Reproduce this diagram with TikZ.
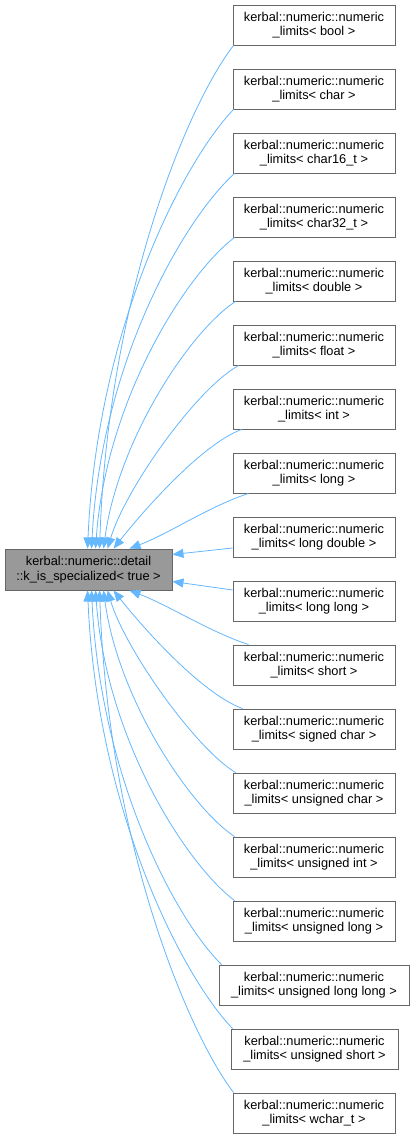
\documentclass[tikz,border=0pt]{standalone}
\usepackage{fontspec}
\setmainfont{Liberation Sans}
\usetikzlibrary{arrows.meta}
\definecolor{edgecol}{HTML}{63B8FF}
\definecolor{boxline}{HTML}{666666}
\definecolor{basefill}{HTML}{999999}
\tikzset{
  cls/.style={draw=boxline, line width=0.9pt, fill=white, minimum width=162pt, minimum height=40pt,
    inner sep=0pt, align=center, font=\fontsize{12.8}{14.6}\selectfont},
  basecls/.style={cls, fill=basefill, minimum width=167pt, minimum height=41pt},
  inh/.style={draw=edgecol, line width=0.8pt, -{Triangle[length=11pt,width=9pt]}}
}
\begin{document}
\begin{tikzpicture}[x=1pt,y=1pt]
\useasboundingbox[fill=white] (0,0) rectangle (413,-1139);
\node[basecls] (L) at (88.5,-569.5) {kerbal::numeric::detail\\::k\_is\_specialized< true >};
\node[cls] (n0) at (314,-25) {kerbal::numeric::numeric\\\_limits< bool >};
\node[cls] (n1) at (314,-89) {kerbal::numeric::numeric\\\_limits< char >};
\node[cls] (n2) at (314,-153) {kerbal::numeric::numeric\\\_limits< char16\_t >};
\node[cls] (n3) at (314,-217) {kerbal::numeric::numeric\\\_limits< char32\_t >};
\node[cls] (n4) at (314,-281) {kerbal::numeric::numeric\\\_limits< double >};
\node[cls] (n5) at (314,-345) {kerbal::numeric::numeric\\\_limits< float >};
\node[cls] (n6) at (314,-409) {kerbal::numeric::numeric\\\_limits< int >};
\node[cls] (n7) at (314,-473) {kerbal::numeric::numeric\\\_limits< long >};
\node[cls] (n8) at (314,-537) {kerbal::numeric::numeric\\\_limits< long double >};
\node[cls] (n9) at (314,-601) {kerbal::numeric::numeric\\\_limits< long long >};
\node[cls] (n10) at (314,-665) {kerbal::numeric::numeric\\\_limits< short >};
\node[cls] (n11) at (314,-729) {kerbal::numeric::numeric\\\_limits< signed char >};
\node[cls] (n12) at (314,-793) {kerbal::numeric::numeric\\\_limits< unsigned char >};
\node[cls] (n13) at (314,-857) {kerbal::numeric::numeric\\\_limits< unsigned int >};
\node[cls] (n14) at (314,-921) {kerbal::numeric::numeric\\\_limits< unsigned long >};
\node[cls, minimum width=190pt] (n15) at (314,-985) {kerbal::numeric::numeric\\\_limits< unsigned long long >};
\node[cls, minimum width=167pt] (n16) at (314.5,-1049) {kerbal::numeric::numeric\\\_limits< unsigned short >};
\node[cls] (n17) at (314,-1113) {kerbal::numeric::numeric\\\_limits< wchar\_t >};
% upper edges
\draw[inh] ([xshift=1pt]n0.south west) .. controls (187,-105.5) and (108,-297) .. ([xshift=95pt]L.north west);
\draw[inh] ([xshift=1pt]n1.south west) .. controls (183,-162) and (97,-329) .. ([xshift=83pt]L.north west);
\draw[inh] ([xshift=2pt]n2.south west) .. controls (185,-218) and (101,-361) .. ([xshift=87pt]L.north west);
\draw[inh] ([xshift=2pt]n3.south west) .. controls (186,-274) and (106,-400) .. ([xshift=91pt]L.north west);
\draw[inh] ([xshift=3pt]n4.south west) .. controls (190,-331) and (118,-440) .. ([xshift=99pt]L.north west);
\draw[inh] ([xshift=6pt]n5.south west) .. controls (195,-390) and (125,-490) .. ([xshift=103pt]L.north west);
\draw[inh] ([xshift=9pt]n6.south west) .. controls (200,-445) and (140,-515) .. ([xshift=109pt]L.north west);
\draw[inh] ([xshift=16pt]n7.south west) .. controls (210,-506) and (168,-534) .. ([xshift=125pt]L.north west);
\draw[inh] ([yshift=-11pt]n8.west) -- ([yshift=15pt]L.east);
\draw[inh] ([yshift=11pt]n9.west) -- ([yshift=-12pt]L.east);
% lower edges
\draw[inh] ([xshift=16pt]n10.north west) .. controls (210,-632) and (168,-605) .. ([xshift=125pt]L.south west);
\draw[inh] ([xshift=10pt]n11.north west) .. controls (200,-693) and (140,-624) .. ([xshift=109pt]L.south west);
\draw[inh] ([xshift=3pt]n12.north west) .. controls (195,-748) and (125,-649) .. ([xshift=103pt]L.south west);
\draw[inh] ([xshift=2pt]n13.north west) .. controls (190,-807) and (118,-699) .. ([xshift=99pt]L.south west);
\draw[inh] ([xshift=2pt]n14.north west) .. controls (186,-864) and (106,-739) .. ([xshift=91pt]L.south west);
\draw[inh] ([xshift=3pt]n15.north west) .. controls (176,-920) and (100,-778) .. ([xshift=87pt]L.south west);
\draw[inh] ([xshift=2pt]n16.north west) .. controls (182,-976) and (97,-810) .. ([xshift=83pt]L.south west);
\draw[inh] ([xshift=1pt]n17.north west) .. controls (188,-1033) and (108,-842) .. ([xshift=95pt]L.south west);
\end{tikzpicture}
\end{document}
